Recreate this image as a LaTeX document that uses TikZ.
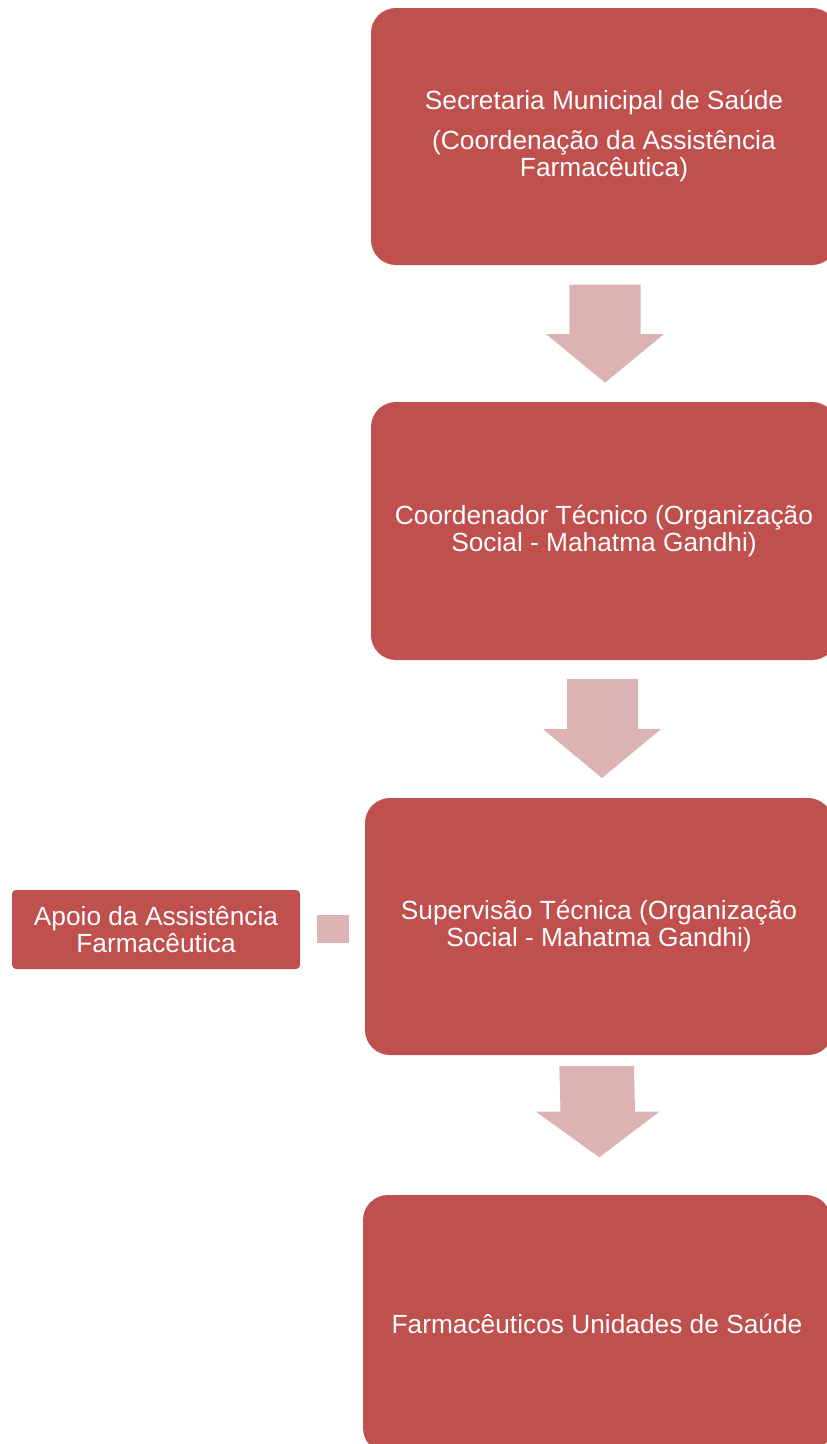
\documentclass[tikz,border=0pt]{standalone}
\usepackage{fontspec}
\setmainfont{Liberation Sans}
\definecolor{boxred}{HTML}{C0504D}
\definecolor{arrowpink}{HTML}{DDB2B2}
\begin{document}
\begin{tikzpicture}[x=1pt,y=-1pt,
  bigbox/.style={fill=boxred, draw=none, rounded corners=25pt, text=white,
    align=center, font=\fontsize{26.3}{27}\selectfont, inner sep=0pt},
  smallbox/.style={fill=boxred, draw=none, rounded corners=4pt, text=white,
    align=center, font=\fontsize{26.3}{27}\selectfont, inner sep=0pt},
  blockarrow/.style={fill=arrowpink, draw=none}]
\useasboundingbox (0,0) rectangle (827,1444);
\clip (0,0) rectangle (827,1444);
\node[bigbox, minimum width=466pt, minimum height=257pt] (b1) at (604,136.5)
  {Secretaria Municipal de Saúde\\[13pt](Coordenação da Assistência\\Farmacêutica)};
\node[bigbox, minimum width=466pt, minimum height=258pt] (b2) at (604,531)
  {Coordenador Técnico (Organização\\Social - Mahatma Gandhi)};
\node[bigbox, minimum width=468pt, minimum height=257pt] (b3) at (599,926.5)
  {Supervisão Técnica (Organização\\Social - Mahatma Gandhi)};
\node[bigbox, minimum width=468pt, minimum height=258pt] (b4) at (597,1324)
  {Farmacêuticos Unidades de Saúde};
\node[smallbox, minimum width=288pt, minimum height=79pt] (ap) at (156,929.5)
  {Apoio da Assistência\\Farmacêutica};
% block arrows
\fill[blockarrow] (569.3,284.7) -- (640.7,284.7) -- (640.7,334) -- (664,334)
  -- (605,382.7) -- (546,334) -- (569.3,334) -- cycle;
\fill[blockarrow] (567,679) -- (638,679) -- (638,729) -- (661,729)
  -- (602,778) -- (543,729) -- (567,729) -- cycle;
\fill[blockarrow] (559.3,1066) -- (634,1066) -- (635,1111.7) -- (659.3,1111.7)
  -- (599.3,1157.3) -- (536,1111.7) -- (560.5,1111.7) -- cycle;
% small connector
\fill[blockarrow] (316.7,915) rectangle (349.3,942.7);
\end{tikzpicture}
\end{document}
